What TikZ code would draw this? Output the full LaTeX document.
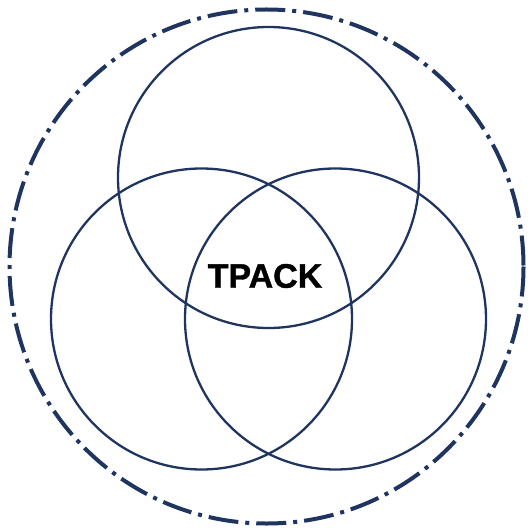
\documentclass[tikz,border=0pt]{standalone}
\usepackage{fontspec}
\setmainfont{Liberation Sans}
\newfontface\heavyfont{Liberation Sans Bold}[FakeBold=1.2]
\definecolor{navy}{HTML}{1F3560}
\begin{document}
\begin{tikzpicture}[x=1pt,y=-1pt,
				ring/.style={draw=navy,line width=2.3pt},
				outer/.style={draw=navy,line width=4pt,dash pattern=on 30pt off 7pt on 4pt off 7pt},
				label/.style={font=\fontsize{34}{38}\heavyfont,text=black}]
\useasboundingbox (0,0) rectangle (528,529);
\draw[outer] (266.5,266.5) circle (257);
\draw[ring] (268.5,177.5) circle (150.5);
\draw[ring] (201.5,319) circle (150.5);
\draw[ring] (335.5,319) circle (150.5);
\node[label] (tpack) at (265,276) {TPACK};
\end{tikzpicture}
\end{document}
